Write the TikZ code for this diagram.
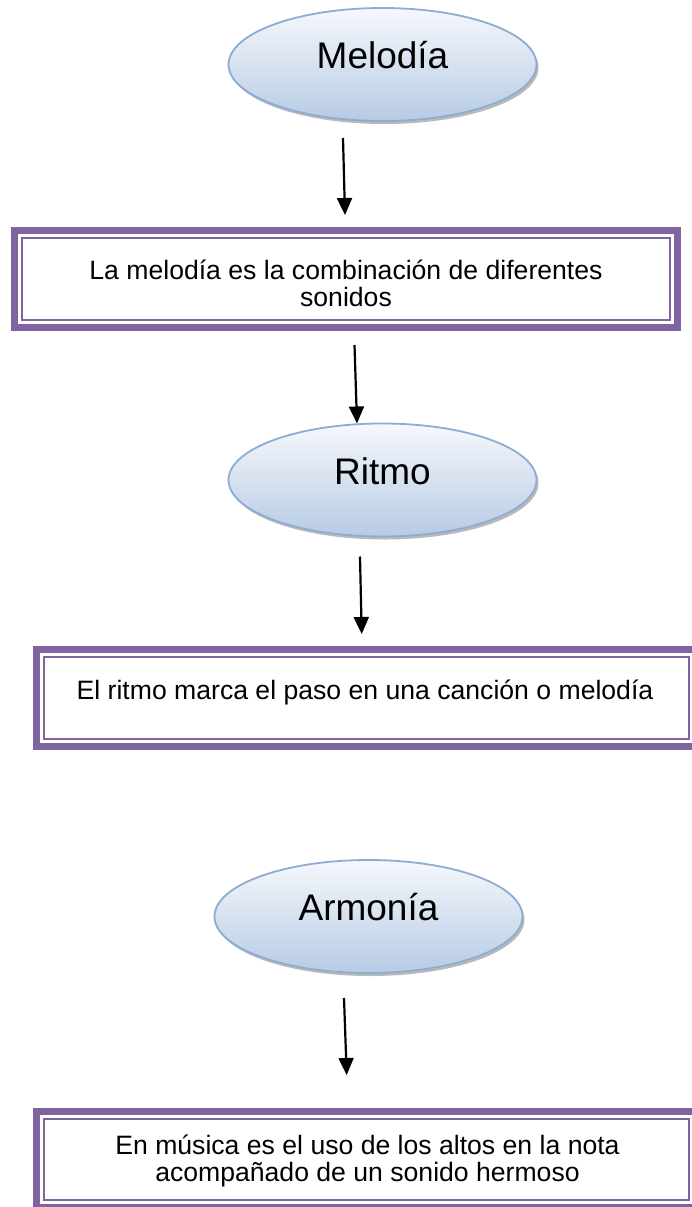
\documentclass[tikz,border=0pt]{standalone}
\usepackage{fontspec}
\setmainfont{Liberation Sans}
\usetikzlibrary{shapes.geometric,arrows.meta,shadows}
\definecolor{boxpurple}{RGB}{128,100,162}
\definecolor{ellline}{RGB}{141,172,212}
\definecolor{elltop}{RGB}{246,248,252}
\definecolor{ellbot}{RGB}{183,203,228}
\begin{document}
\begin{tikzpicture}[x=1pt,y=-1pt,
 ell/.style={ellipse, draw=ellline, line width=1.8pt, top color=elltop, bottom color=ellbot,
   minimum width=308pt, minimum height=113pt, inner sep=0pt, outer sep=0pt,
   text height=22pt, text depth=14pt, font=\fontsize{37}{44}\selectfont,
   drop shadow={shadow xshift=2pt, shadow yshift=-3pt, opacity=0.5, fill=black!55}},
 frame/.style={rectangle, draw=boxpurple, line width=7.3pt, outer sep=3.65pt, fill=white},
 innerframe/.style={draw=boxpurple, line width=2pt},
 boxtext/.style={font=\fontsize{26.6}{27}\selectfont, align=center, anchor=base, inner sep=0pt},
 arr/.style={line width=2.2pt, -{Triangle[width=15pt,length=17pt]}}]
\useasboundingbox (0,0) rectangle (691,1207);
% Melodia
\node[ell] (mel) at (382.5,64.5) {Melodía};
\node[frame, minimum width=662.7pt, minimum height=96.7pt] (b1) at (346,279) {};
\draw[innerframe] ([shift={(10.7pt,-10.7pt)}]b1.north west) rectangle ([shift={(-10.7pt,10.7pt)}]b1.south east);
\node[boxtext] (t1) at (346,306) {La melodía es la combinación de diferentes\\sonidos};
% Ritmo
\node[ell] (rit) at (382.5,480) {Ritmo};
\node[frame, minimum width=659.7pt, minimum height=96.7pt] (b2) at (366.5,698) {};
\draw[innerframe] ([shift={(10.7pt,-10.7pt)}]b2.north west) rectangle ([shift={(-10.7pt,10.7pt)}]b2.south east);
\node[boxtext] (t2) at (365,699) {El ritmo marca el paso en una canción o melodía};
% Armonia
\node[ell] (arm) at (368.5,916.5) {Armonía};
\node[frame, minimum width=659.7pt, minimum height=95.7pt] (b3) at (366.5,1159.5) {};
\draw[innerframe] ([shift={(10.7pt,-10.7pt)}]b3.north west) rectangle ([shift={(-10.7pt,10.7pt)}]b3.south east);
\node[boxtext] (t3) at (367.5,1181) {En música es el uso de los altos en la nota\\acompañado de un sonido hermoso};
% arrows
\draw[arr] ([xshift=-39.5pt,yshift=-17pt]mel.south) -- ([xshift=-1pt,yshift=12pt]b1.north);
\draw[arr] ([xshift=8.5pt,yshift=-14pt]b1.south) -- ([xshift=-25.5pt]rit.north);
\draw[arr] ([xshift=-22.5pt,yshift=-20pt]rit.south) -- ([xshift=-4.8pt,yshift=12pt]b2.north);
\draw[arr] ([xshift=-24.5pt,yshift=-25pt]arm.south) -- ([xshift=-19.8pt,yshift=33pt]b3.north);
\end{tikzpicture}
\end{document}
